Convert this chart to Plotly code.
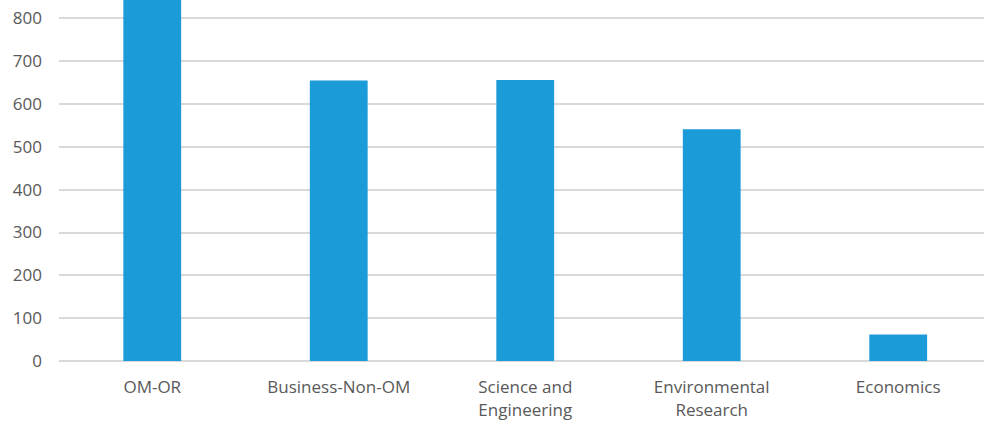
import plotly.graph_objects as go

# Publications by research field
categories = ["OM-OR", "Business-Non-OM", "Science and<br>Engineering",
              "Environmental<br>Research", "Economics"]
counts = [880, 655, 656, 541, 62]

BAR_COLOR = "#1b9bd7"
GRID_COLOR = "#d9d9d9"
TEXT_COLOR = "#595959"
FONT = "Open Sans, Liberation Sans, sans-serif"

fig = go.Figure(
    go.Bar(
        x=list(range(len(categories))),
        y=counts,
        width=0.31,
        marker=dict(color=BAR_COLOR, line=dict(width=0)),
        hoverinfo="skip",
    )
)

fig.update_layout(
    width=984,
    height=425,
    margin=dict(l=59, r=0, t=0, b=64),
    paper_bgcolor="white",
    plot_bgcolor="white",
    showlegend=False,
    font=dict(family=FONT, size=17, color=TEXT_COLOR),
)

fig.update_xaxes(
    tickmode="array",
    tickvals=list(range(len(categories))),
    ticktext=categories,
    range=[-0.5, 4.46],
    showgrid=False,
    showline=False,
    zeroline=False,
    ticks="outside",
    ticklen=11,
    tickcolor="rgba(0,0,0,0)",
    tickfont=dict(family=FONT, size=17, color=TEXT_COLOR),
)

fig.update_yaxes(
    range=[0, 843],
    tickmode="linear",
    tick0=0,
    dtick=100,
    showgrid=True,
    gridcolor=GRID_COLOR,
    gridwidth=1.6,
    zeroline=True,
    zerolinecolor=GRID_COLOR,
    zerolinewidth=1.6,
    showline=False,
    ticklabelstandoff=16,
    tickfont=dict(family=FONT, size=17, color=TEXT_COLOR),
)

fig.write_html("out.html")
